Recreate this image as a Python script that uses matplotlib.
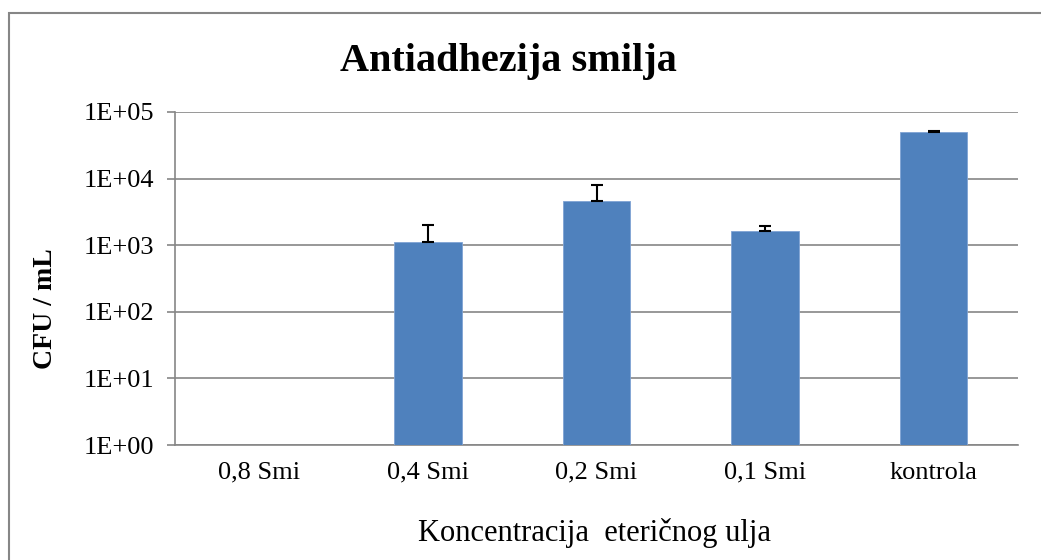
import matplotlib
matplotlib.use("Agg")
import matplotlib.pyplot as plt
import numpy as np
from matplotlib.patches import Rectangle

categories = ["0,8 Smi", "0,4 Smi", "0,2 Smi", "0,1 Smi", "kontrola"]
values = [0, 1120, 4600, 1650, 50000]
err_upper = [0, 880, 3400, 310, 1500]
yticks = [1, 10, 100, 1000, 10000, 100000]
ytick_labels = ["1E+00", "1E+01", "1E+02", "1E+03", "1E+04", "1E+05"]

plt.rcParams['font.family'] = ['Liberation Serif', 'DejaVu Serif']

W, H = 1041, 560
fig = plt.figure(figsize=(W / 100, H / 100), dpi=100)
ax = fig.add_axes([175 / W, 1 - 445 / H, (1018 - 175) / W, (445 - 112) / H])

x = np.arange(len(categories))
vals = np.array(values, dtype=float)
errs = np.array(err_upper, dtype=float)
mask = vals > 0
ax.bar(x[mask], vals[mask], width=0.4, color="#4F81BD", edgecolor="#7FA3D4", linewidth=0.6, zorder=3)
ax.errorbar(x[mask], vals[mask], yerr=[np.zeros(mask.sum()), errs[mask]], fmt="none",
            ecolor="black", elinewidth=1.5, capsize=4, capthick=1.5, zorder=4)

ax.set_yscale("log")
ax.set_ylim(1, 100000)
ax.set_xlim(-0.5, len(categories) - 0.5)
ax.set_yticks(yticks)
ax.set_yticklabels(ytick_labels, fontsize=19)
ax.yaxis.set_minor_locator(matplotlib.ticker.NullLocator())
ax.set_xticks(x)
ax.set_xticklabels(categories, fontsize=19)
ax.tick_params(axis="x", length=0, pad=12)
ax.tick_params(axis="y", length=6, width=1.2, color="#868686", pad=9)
ax.grid(axis="y", color="#868686", linewidth=1.2, zorder=0)
for s in ["top", "right"]:
    ax.spines[s].set_visible(False)
for s in ["left", "bottom"]:
    ax.spines[s].set_color("#868686")
    ax.spines[s].set_linewidth(1.2)

fig.text(45 / W, 1 - 309 / H, "CFU / mL", fontsize=20, fontweight="bold",
         rotation=90, ha="center", va="center")
fig.text(594 / W, 1 - 533 / H, "Koncentracija  eteričnog ulja", fontsize=22,
         ha="center", va="center")
fig.text(508 / W, 1 - 62 / H, "Antiadhezija smilja", fontsize=29, fontweight="bold",
         ha="center", va="center")

fig.patches.append(Rectangle((9 / W, -0.01), 1.02, 1 - 13 / H + 0.01, transform=fig.transFigure,
                             fill=False, edgecolor="#868686", linewidth=1.5))

fig.savefig("out.png", dpi=100)
